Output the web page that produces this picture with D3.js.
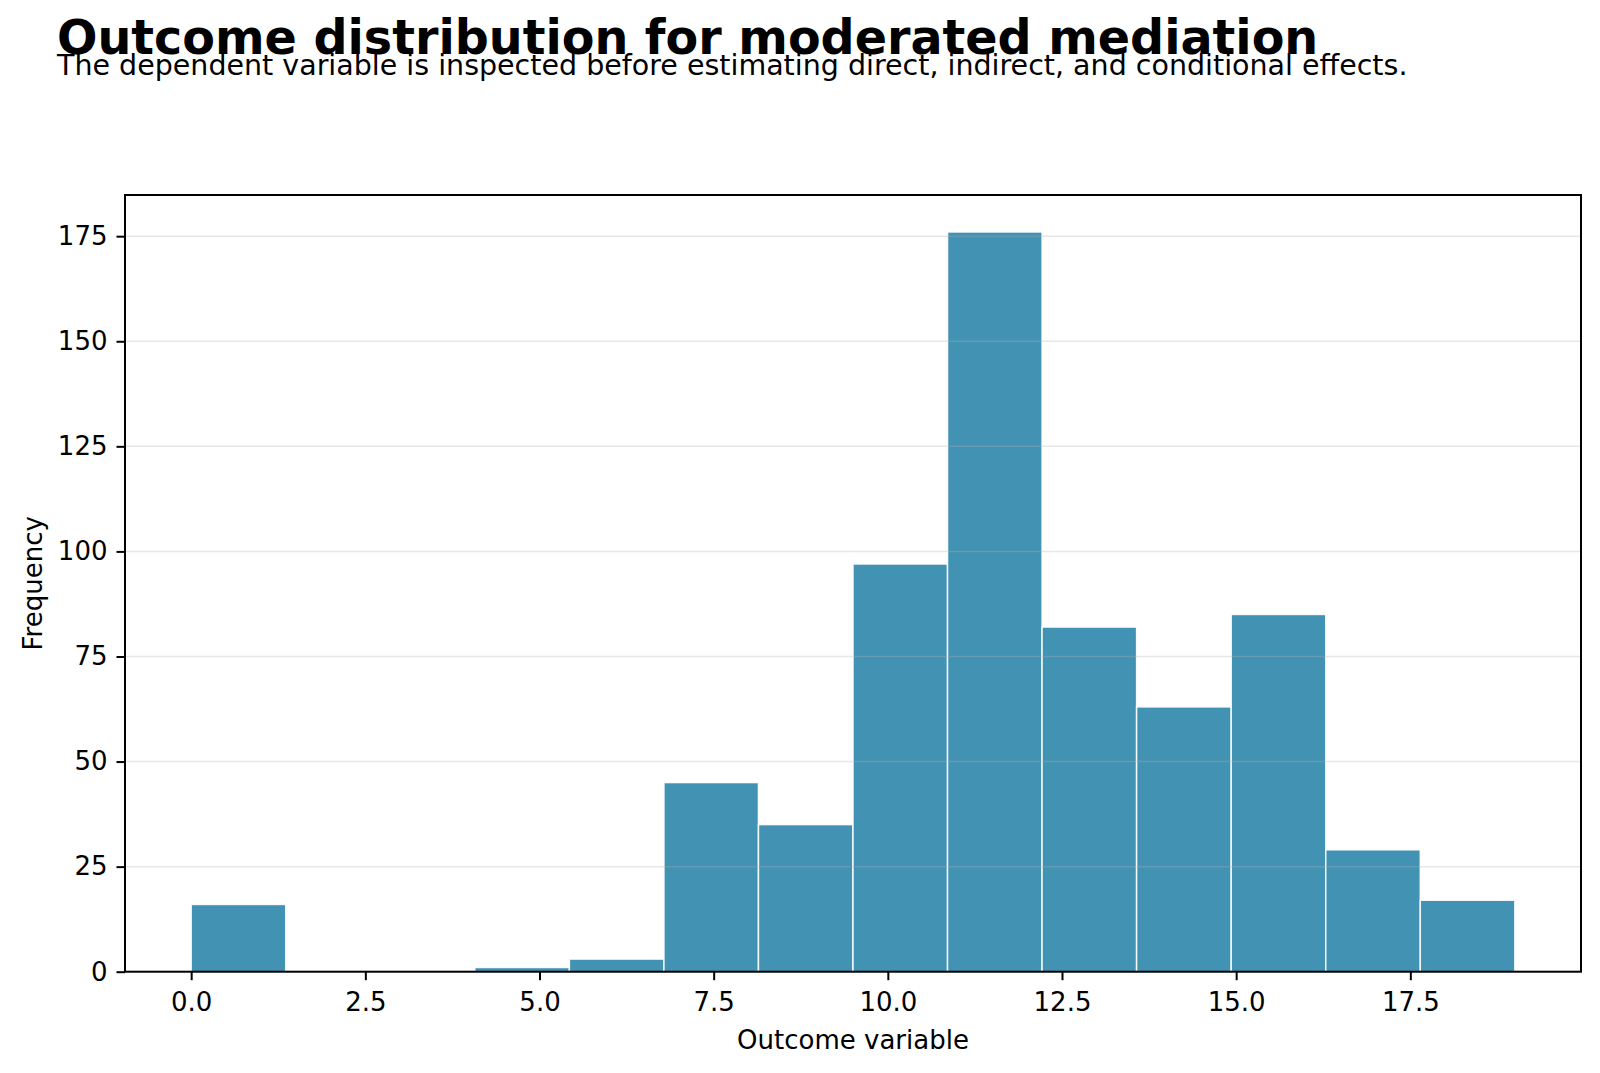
<!DOCTYPE html>
<html lang="en">
<head>
    <meta charset="utf-8">
    <title>Outcome distribution for moderated mediation</title>
    <style>
        body {
            margin: 0;
            background-color: white;
            font-family: "DejaVu Sans", sans-serif;
        }

        .axis path, .axis line {
            stroke: black;
        }

        .axis text {
            fill: black;
            font-size: 26px;
            font-family: "DejaVu Sans", sans-serif;
        }

        .grid line {
            stroke: #b0b0b0;
            stroke-opacity: 0.3;
            stroke-width: 1.5;
        }

        .bar {
            fill: #2E86AB;
            fill-opacity: 0.9;
            stroke: white;
            stroke-opacity: 0.9;
            stroke-width: 1.5;
        }
    </style>
</head>
<body>
<script src="https://cdn.jsdelivr.net/npm/d3@7"></script>
<script>
    // histogram bins
    var binEdges = [0, 1.357, 2.714, 4.071, 5.429, 6.786, 8.143, 9.5, 10.857, 12.214, 13.571, 14.929, 16.286, 17.643, 19.0];
    var counts = [16, 0, 0, 1, 3, 45, 35, 97, 176, 82, 63, 85, 29, 17];
    var xTicks = [0, 2.5, 5, 7.5, 10, 12.5, 15, 17.5];
    var yTicks = [0, 25, 50, 75, 100, 125, 150, 175];

    var titleText = "Outcome distribution for moderated mediation";
    var subtitleText = "The dependent variable is inspected before estimating direct, indirect, and conditional effects.";

    var W = 1600, H = 1073;
    var margin = { top: 195, right: 19, bottom: 101.3, left: 125 },
        width = W - margin.left - margin.right,
        height = H - margin.top - margin.bottom;

    var bins = counts.map(function(c, i) {
        return { x0: binEdges[i], x1: binEdges[i + 1], count: c };
    });

    // matplotlib style 5% margins
    var xSpan = binEdges[binEdges.length - 1] - binEdges[0];
    var x = d3.scaleLinear()
        .domain([binEdges[0] - xSpan * 0.05, binEdges[binEdges.length - 1] + xSpan * 0.05])
        .range([0, width]);
    var y = d3.scaleLinear()
        .domain([0, d3.max(counts) * 1.05])
        .range([height, 0]);

    var svg = d3.select("body").append("svg")
        .attr("width", W)
        .attr("height", H);

    svg.append("text")
        .attr("x", 57)
        .attr("y", 54)
        .style("font-family", "DejaVu Sans")
        .style("font-weight", "bold")
        .style("font-size", "47.6px")
        .text(titleText);

    svg.append("text")
        .attr("x", 57)
        .attr("y", 75)
        .style("font-family", "DejaVu Sans")
        .style("font-size", "28.5px")
        .text(subtitleText);

    var g = svg.append("g")
        .attr("transform", "translate(" + margin.left + "," + margin.top + ")");

    g.selectAll(".bar")
        .data(bins)
        .enter().append("rect")
        .attr("class", "bar")
        .attr("x", function(d) { return x(d.x0); })
        .attr("width", function(d) { return x(d.x1) - x(d.x0); })
        .attr("y", function(d) { return y(d.count); })
        .attr("height", function(d) { return height - y(d.count); })
        .style("display", function(d) { return d.count > 0 ? null : "none"; });

    // grid sits above the bars, like matplotlib's default
    g.append("g")
        .attr("class", "grid")
        .selectAll("line")
        .data(yTicks)
        .enter().append("line")
        .attr("x1", 0)
        .attr("x2", width)
        .attr("y1", function(d) { return y(d); })
        .attr("y2", function(d) { return y(d); });

    var xAxis = d3.axisBottom(x)
        .tickValues(xTicks)
        .tickFormat(d3.format(".1f"))
        .tickSize(8.5)
        .tickPadding(12);

    var yAxis = d3.axisLeft(y)
        .tickValues(yTicks)
        .tickSize(8.5)
        .tickPadding(9);

    g.append("g")
        .attr("class", "x axis")
        .attr("transform", "translate(0," + height + ")")
        .call(xAxis)
        .call(function(s) { s.select(".domain").remove(); })
        .selectAll("line").attr("stroke-width", 2);

    g.append("g")
        .attr("class", "y axis")
        .call(yAxis)
        .call(function(s) { s.select(".domain").remove(); })
        .selectAll("line").attr("stroke-width", 2);

    // frame
    g.append("rect")
        .attr("width", width)
        .attr("height", height)
        .attr("fill", "none")
        .attr("stroke", "black")
        .attr("stroke-width", 2);

    g.append("text")
        .attr("x", width / 2)
        .attr("y", height + 77)
        .attr("text-anchor", "middle")
        .style("font-size", "26px")
        .text("Outcome variable");

    g.append("text")
        .attr("transform", "translate(" + (42 - margin.left) + "," + (height / 2) + ") rotate(-90)")
        .attr("text-anchor", "middle")
        .style("font-size", "26px")
        .text("Frequency");
</script>
</body>
</html>
